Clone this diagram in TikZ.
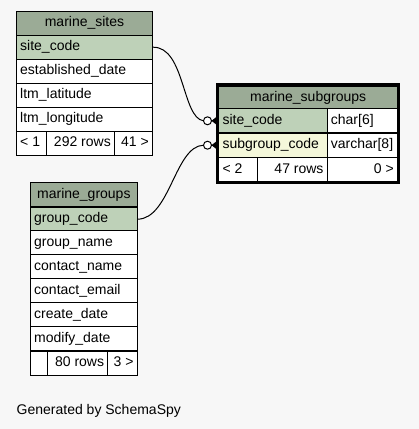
\documentclass[tikz,border=0pt]{standalone}
\usepackage{fontspec}
\setmainfont{Liberation Sans}
\definecolor{hdr}{HTML}{9BAB96}
\definecolor{keycol}{HTML}{BED1B8}
\definecolor{impcol}{HTML}{F4F7DA}
\definecolor{bgcol}{HTML}{F7F7F7}
\tikzset{cell/.style={draw,line width=1pt,anchor=north west,minimum height=24pt,inner sep=0pt,text height=10pt,text depth=3pt},
  lt/.style={anchor=west,inner xsep=4pt,inner ysep=0pt,text height=10pt,text depth=3pt},
  rt/.style={anchor=east,inner xsep=4pt,inner ysep=0pt,text height=10pt,text depth=3pt},
  rel/.style={line width=1pt}}
\newcommand{\hcell}[3]{node[cell,minimum width=#1pt,fill=hdr] (#3) {#2}}
\newcommand{\tcell}[4]{node[cell,minimum width=#1pt,fill=#2,label={[lt]west:#3}] (#4) {}}
\newcommand{\rcell}[4]{node[cell,minimum width=#1pt,fill=#2,label={[rt]east:#3}] (#4) {}}
\newcommand{\odotcrow}[1]{\draw[rel,fill=white] ([xshift=-10.8pt]#1) circle (4pt);
  \fill ([xshift=-6.8pt]#1) -- ([xshift=-2.3pt,yshift=3.5pt]#1) -- ([xshift=-2.3pt,yshift=-3.5pt]#1) -- cycle;}

\begin{document}
\begin{tikzpicture}[x=1pt,y=-1pt,font=\fontsize{14}{16}\selectfont]
    \fill[bgcol] (0,0) rectangle (419,429);
    \useasboundingbox (0,0) rectangle (419,429);
    \path (16,10.7) \hcell{136}{marine\_sites}{sites};
    \path (16,34.7) \tcell{136}{keycol}{site\_code}{sites1};
    \foreach \t [count=\i from 2] in {established\_date,ltm\_latitude,ltm\_longitude}
      \path (16,{10.7+24*\i}) \tcell{136}{white}{\t}{sites\i};
    \path (16,130.7) \tcell{29.7}{white}{< 1}{sitesa} (45.7,130.7) \rcell{68.3}{white}{292 rows}{sitesb} (114,130.7) \rcell{38}{white}{41 >}{sitesc};
    \path (218.3,86) node[cell,minimum width=178.7pt,minimum height=22.3pt,fill=hdr] (subgroups) {marine\_subgroups};
    \path (218.3,108.3) \tcell{108.4}{keycol}{site\_code}{subgroups1} (326.7,108.3) \tcell{70.3}{white}{char[6]}{subgroups1t};
    \path (218.3,132.7) \tcell{108.4}{impcol}{subgroup\_code}{subgroups2} (326.7,132.7) \tcell{70.3}{white}{varchar[8]}{subgroups2t};
    \path (218.3,157) \tcell{39}{white}{< 2}{subgroupsa} (257.3,157) \rcell{69.4}{white}{47 rows}{subgroupsb} (326.7,157) \rcell{70.3}{white}{0 >}{subgroupsc};
    \draw[line width=2.7pt] (217,84.7) rectangle (398.7,183);
    \path (30,182.3) \hcell{106.7}{marine\_groups}{groups};
    \path (30,206.7) \tcell{106.7}{keycol}{group\_code}{groups1};
    \foreach \t [count=\i from 2] in {group\_name,contact\_name,contact\_email,create\_date,modify\_date}
      \path (30,{182.3+24*\i}) \tcell{106.7}{white}{\t}{groups\i};
    \path (30,350.7) \tcell{16.7}{white}{}{groupsa} (46.7,350.7) \rcell{60.6}{white}{80 rows}{groupsb} (107.3,350.7) \rcell{29.4}{white}{3 >}{groupsc};
    \draw[rel] (sites1.east) .. controls (185,46.7) and (182,118) .. ([xshift=-14.8pt]subgroups1.west);
    \odotcrow{subgroups1.west}
    \draw[rel] (groups1.east) .. controls (170,218.7) and (175,146) .. ([xshift=-14.8pt]subgroups2.west);
    \odotcrow{subgroups2.west}
    \node[anchor=base west,inner sep=0pt] (gen) at (16.5,414.3) {Generated by SchemaSpy};
\end{tikzpicture}
\end{document}
